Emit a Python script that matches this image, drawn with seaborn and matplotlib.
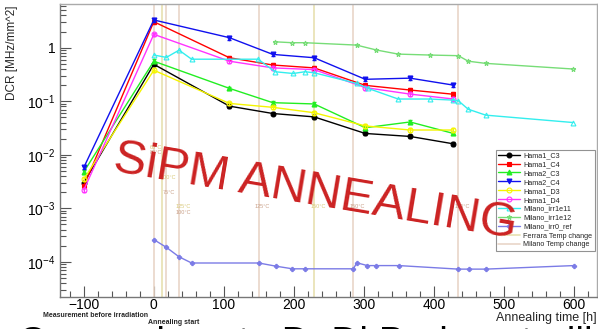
import matplotlib
matplotlib.use("Agg")
import matplotlib.pyplot as plt
import matplotlib.ticker as mticker
import seaborn as sns
import numpy as np
import pandas as pd
from matplotlib.lines import Line2D

# ---------------- data ----------------
hama_x = [-100, 0, 108, 170, 229, 302, 366, 428]
hama1_c3 = [0.0030, 0.49, 0.081, 0.059, 0.051, 0.025, 0.022, 0.016]
hama1_c4 = [0.0026, 3.06, 0.65, 0.475, 0.42, 0.198, 0.162, 0.135]
hama2_c3 = [0.0048, 0.56, 0.174, 0.094, 0.089, 0.032, 0.041, 0.025]
hama2_c4 = [0.0058, 3.3, 1.54, 0.75, 0.65, 0.257, 0.27, 0.20]
hama1_d3 = [0.0035, 0.38, 0.091, 0.077, 0.061, 0.0346, 0.029, 0.029]
hama1_d4 = [0.0022, 1.78, 0.56, 0.42, 0.39, 0.18, 0.136, 0.11]

irr1e11_x = [0, 18, 36, 54, 149, 173, 199, 216, 229, 289.5, 306, 349, 394, 428, 435, 449, 474, 599]
irr1e11_y = [0.73, 0.66, 0.90, 0.61, 0.61, 0.356, 0.33, 0.356, 0.34, 0.216, 0.174, 0.11, 0.11, 0.105, 0.102, 0.071, 0.055, 0.040]

irr1e12_x = [173, 198, 216, 289.5, 318, 349, 394, 435, 449, 474, 599]
irr1e12_y = [1.29, 1.24, 1.24, 1.12, 0.906, 0.76, 0.73, 0.71, 0.56, 0.51, 0.40]

irr0_x = [0, 18, 36, 54, 150, 174, 198, 216, 285, 290, 305, 317, 350, 435, 450, 474, 600]
irr0_y = [2.6e-4, 1.86e-4, 1.24e-4, 9.5e-5, 9.5e-5, 8.3e-5, 7.4e-5, 7.4e-5, 7.4e-5, 9.6e-5, 8.5e-5, 8.5e-5, 8.5e-5, 7.3e-5, 7.3e-5, 7.3e-5, 8.5e-5]

ferrara_change_x = [12, 229]
milano_change_x = [0, 18, 36, 150, 285, 434]

temp_label_x = [-6, -6, 9, 13, 31, 31, 144, 224, 280, 430]
temp_label_y = [0.0139, 0.0112, 3.8e-3, 2.0e-3, 1.1e-3, 8.5e-4, 1.1e-3, 1.1e-3, 1.1e-3, 1.1e-3]
temp_label_txt = ["60°C", "80°C", "100°C", "75°C", "125°C", "100°C", "125°C", "150°C", "150°C", "175°C"]
temp_label_src = ["F", "M", "F", "M", "F", "M", "M", "F", "M", "M"]

x_ticks = [-100, 0, 100, 200, 300, 400, 500, 600]

# ---------------- style ----------------
sns.set_theme(style="white")
plt.rcParams["font.family"] = ["Liberation Sans", "DejaVu Sans"]
plt.rcParams["mathtext.fontset"] = "custom"
plt.rcParams["mathtext.rm"] = "Liberation Sans"
plt.rcParams["mathtext.it"] = "Liberation Sans:italic"

fig = plt.figure(figsize=(5.98, 3.29), dpi=100)
ax = fig.add_axes([60/598, 32/329, 537/598, 293/329])

FERRARA_C = "#e8e0b0"
MILANO_C = "#e9d6c8"

for xv in ferrara_change_x:
    ax.axvline(xv, color=FERRARA_C, lw=1.2, zorder=1)
for xv in milano_change_x:
    ax.axvline(xv, color=MILANO_C, lw=1.2, zorder=1)

series = [
    ("Hama1_C3", hama_x, hama1_c3, "black", "o", True),
    ("Hama1_C4", hama_x, hama1_c4, "red", "s", True),
    ("Hama2_C3", hama_x, hama2_c3, "#22ee22", "^", True),
    ("Hama2_C4", hama_x, hama2_c4, "#1010ee", "v", True),
    ("Hama1_D3", hama_x, hama1_d3, "#f5f500", "o", False),
    ("Hama1_D4", hama_x, hama1_d4, "#ff33ff", "o", False),
    ("Milano_irr1e11", irr1e11_x, irr1e11_y, "#33eeee", "^", False),
    ("Milano_irr1e12", irr1e12_x, irr1e12_y, "#77dd77", "*", False),
    ("Milano_irr0_ref", irr0_x, irr0_y, "#7b7be6", "P", True),
]

for name, xs, ys, col, mk, filled in series:
    df = pd.DataFrame({"x": xs, "y": ys})
    sns.lineplot(data=df, x="x", y="y", ax=ax, color=col, lw=1.0,
                 marker=mk, markersize=3.5 if mk != "P" else 3,
                 markerfacecolor=col if filled else "none",
                 markeredgecolor=col, markeredgewidth=0.8, label=name, zorder=3)
    if name.startswith("Hama"):
        ax.errorbar(xs, ys, yerr=[0.08 * np.array(ys), 0.08 * np.array(ys)],
                    fmt="none", ecolor=col, elinewidth=0.8, capsize=1.2, zorder=3)

ax.set_yscale("log")
ax.set_xlim(-134, 633)
ax.set_ylim(2.2e-5, 6.56)

for tx, ty, tt, ts in zip(temp_label_x, temp_label_y, temp_label_txt, temp_label_src):
    ax.text(tx, ty, tt, fontsize=4, color="#d8c878" if ts == "F" else "#c9a088",
            ha="left", va="center", zorder=2)

# ticks
ax.set_xticks(x_ticks)
ax.set_xticklabels(["\u2212100" if v == -100 else str(v) for v in x_ticks])
ax.xaxis.set_minor_locator(mticker.MultipleLocator(20))
ax.yaxis.set_major_locator(mticker.LogLocator(base=10))
ax.yaxis.set_minor_locator(mticker.LogLocator(base=10, subs=np.arange(2, 10)))
ax.yaxis.set_minor_formatter(mticker.NullFormatter())

def yfmt(v, pos):
    e = int(round(np.log10(v)))
    if e == 0:
        return "1"
    if e > 0:
        return ""
    return r"$10^{%d}$" % e
ax.yaxis.set_major_formatter(mticker.FuncFormatter(yfmt))

ax.tick_params(axis="both", which="both", direction="in", colors="#555555",
               labelcolor="black", labelsize=10, left=True, bottom=True,
               top=False, right=False)
ax.tick_params(axis="both", which="major", length=8, width=0.8)
ax.tick_params(axis="both", which="minor", length=4, width=0.8)
ax.tick_params(axis="x", pad=1)

for sp in ax.spines.values():
    sp.set_color("#aaaaaa")
    sp.set_linewidth(1.0)
ax.spines["left"].set_color("#777777")
ax.spines["bottom"].set_color("#777777")

ax.set_xlabel("Annealing time [h]", loc="right", fontsize=9, labelpad=0)
ax.set_ylabel("DCR [MHz/mm^2]", loc="top", fontsize=8.5)
ax.yaxis.set_label_coords(-0.078, 0.995)

# legend
h, l = ax.get_legend_handles_labels()
h = h + [Line2D([], [], color=FERRARA_C, lw=1.2), Line2D([], [], color=MILANO_C, lw=1.2)]
l = l + ["Ferrara Temp change", "Milano Temp change"]
leg = ax.legend(h, l, loc="upper left", bbox_to_anchor=(0.812, 0.502),
                borderaxespad=0, fontsize=5.2, frameon=True, fancybox=False,
                handlelength=3.0, handletextpad=0.5, labelspacing=0.26,
                borderpad=0.3)
leg.get_frame().set_edgecolor("#777777")
leg.get_frame().set_linewidth(0.8)
leg.set_zorder(5)

# annotations below axis
fig.text(43/598, 1 - 315.5/329, "Measurement before irradiation", fontsize=5,
         fontweight="bold", ha="left", va="center")
fig.text(148/598, 1 - 322.5/329, "Annealing start", fontsize=5,
         fontweight="bold", ha="left", va="center")

# watermark
fig.text(315/598, 1 - 192/329, "SiPM ANNEALING", fontsize=35, color="#cc2222",
         rotation=-9.5, ha="center", va="center", rotation_mode="anchor", zorder=10)

# cut-off slide text at bottom
fig.text(18/598, 1 - 354/329, "Comparison to D. Di Bari controlli", fontsize=28,
         color="black", ha="left", va="baseline")

fig.savefig("out.png", dpi=100)
